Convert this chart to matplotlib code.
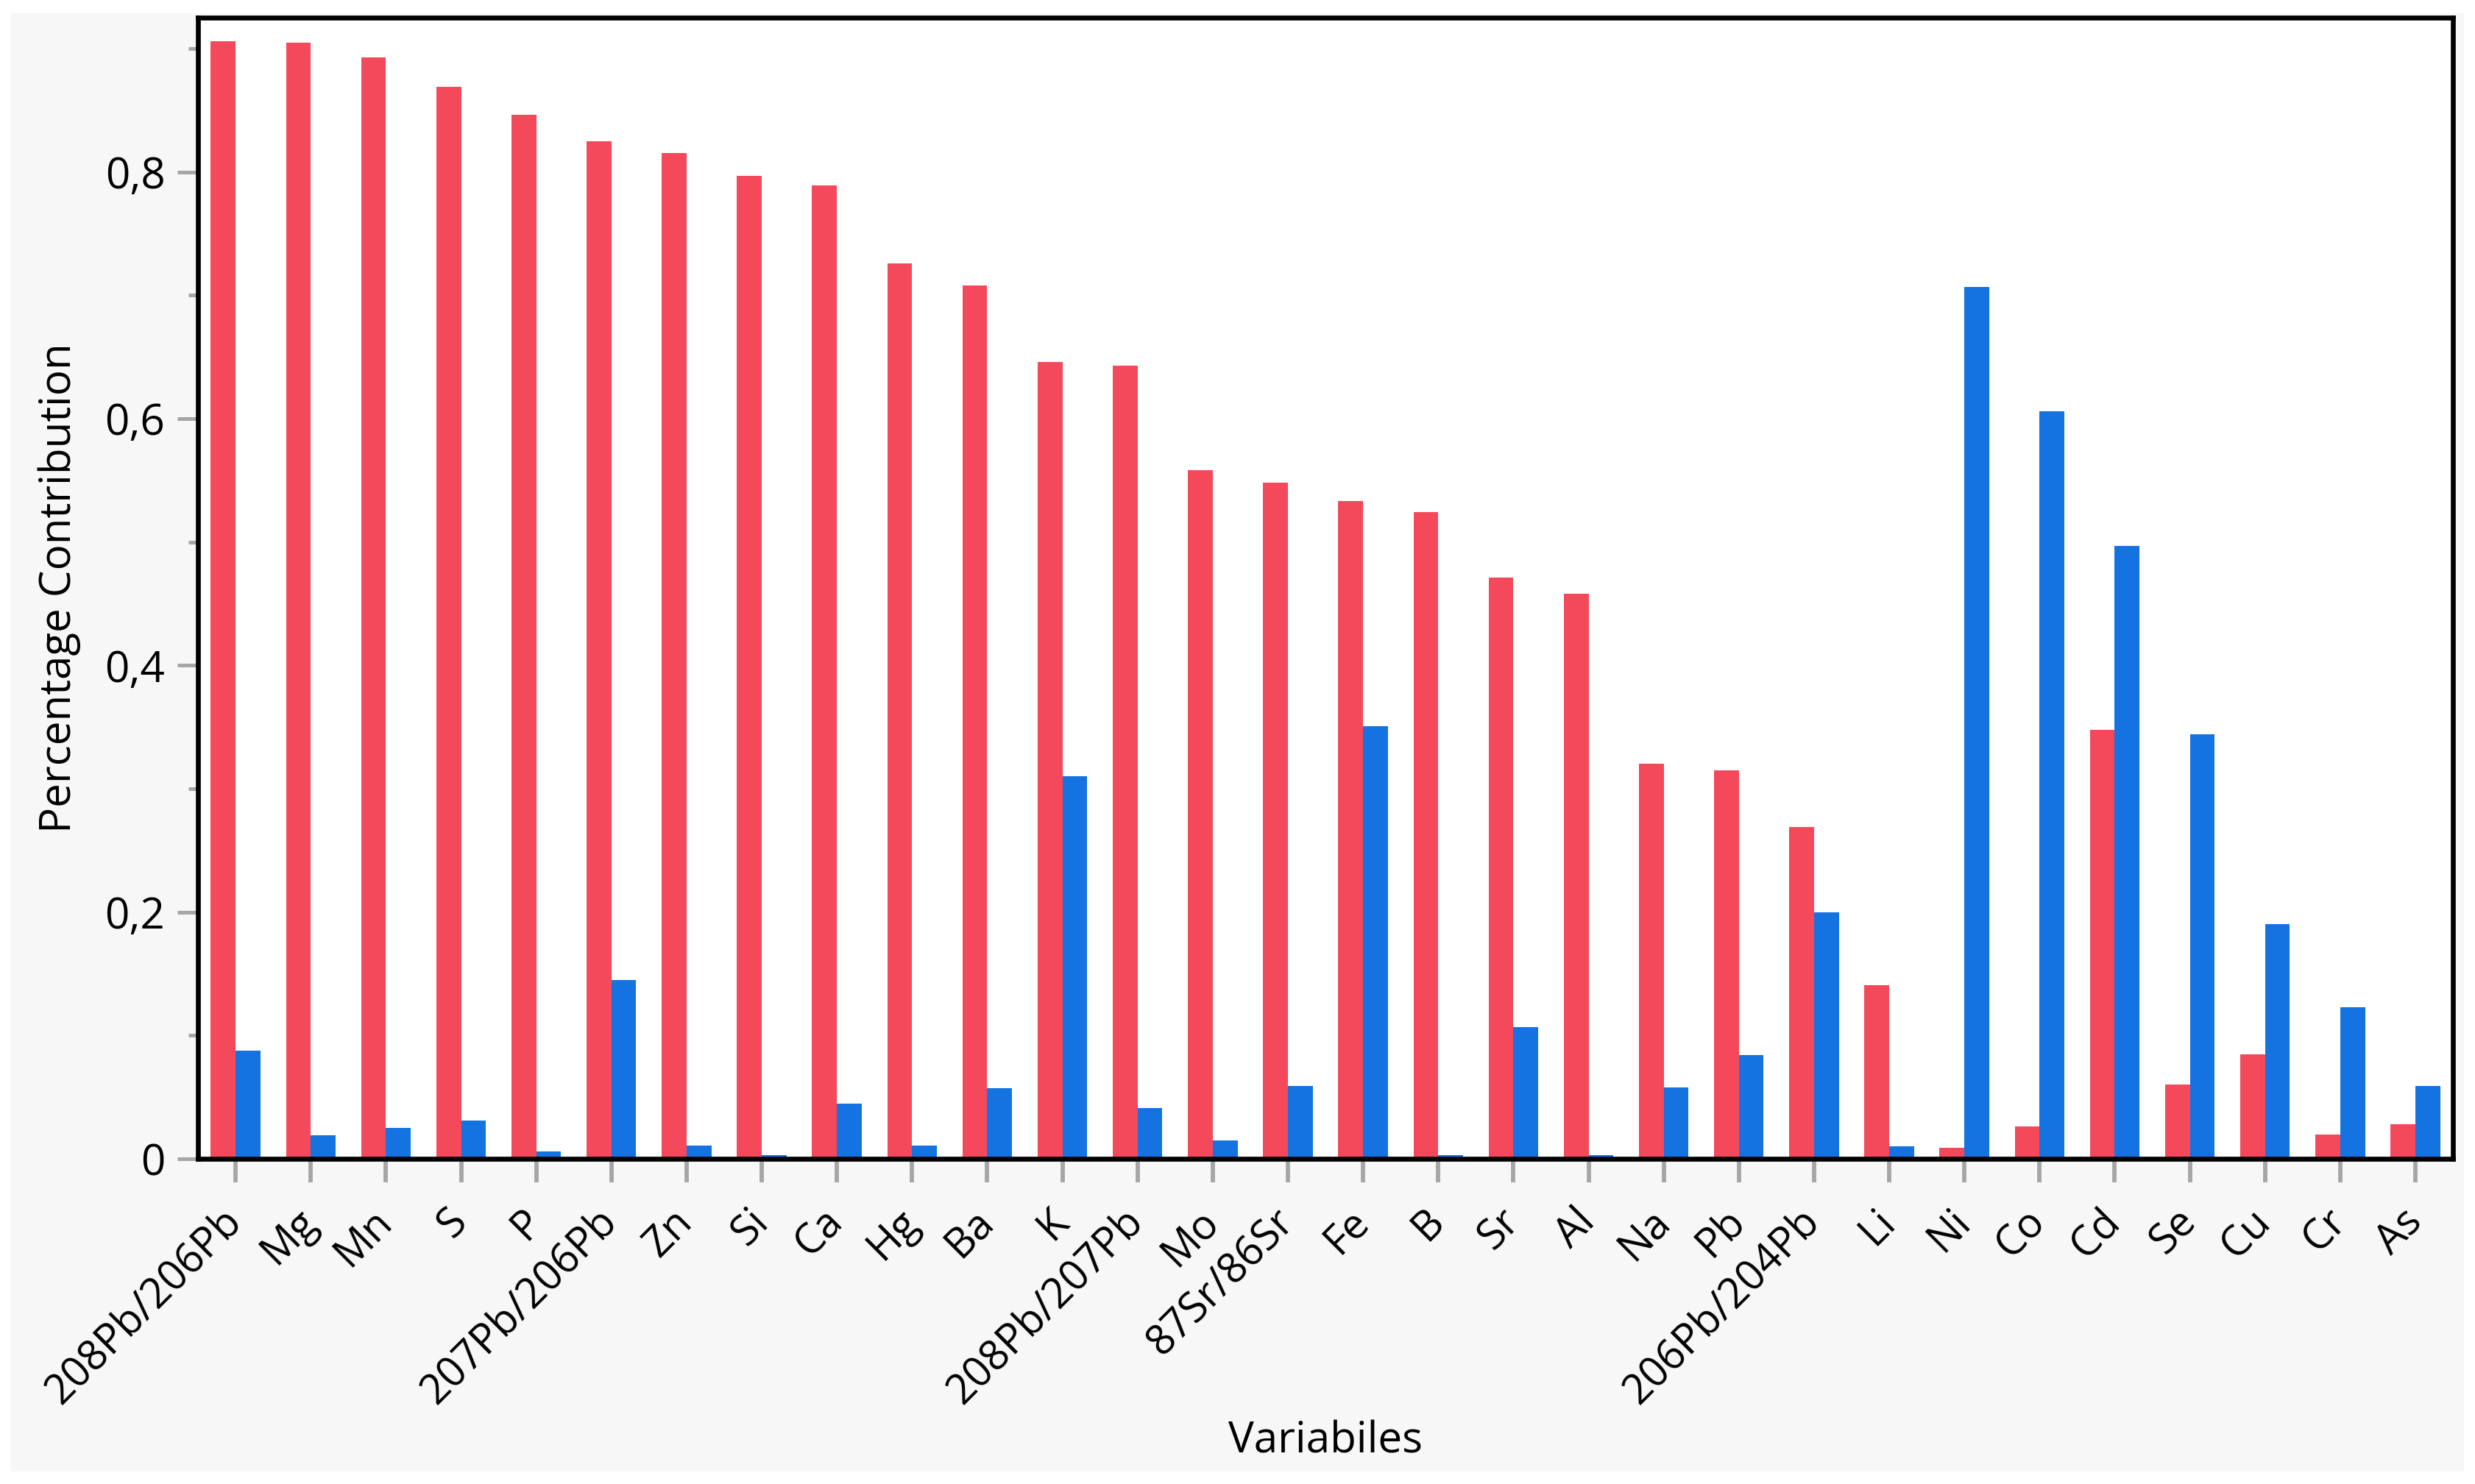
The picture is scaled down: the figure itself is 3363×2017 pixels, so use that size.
import matplotlib

matplotlib.use("Agg")
import matplotlib.pyplot as plt
import numpy as np
from matplotlib.patches import Rectangle

plt.rcParams["font.family"] = ["Open Sans", "DejaVu Sans"]

variables = [
    "208Pb/206Pb", "Mg", "Mn", "S", "P", "207Pb/206Pb", "Zn", "Si", "Ca", "Hg",
    "Ba", "K", "208Pb/207Pb", "Mo", "87Sr/86Sr", "Fe", "B", "Sr", "Al", "Na",
    "Pb", "206Pb/204Pb", "Li", "Ni", "Co", "Cd", "Se", "Cu", "Cr", "As",
]
# red series (first component)
comp1 = [
    0.906, 0.905, 0.893, 0.869, 0.846, 0.825, 0.815, 0.797, 0.789, 0.726,
    0.708, 0.646, 0.643, 0.558, 0.548, 0.533, 0.524, 0.471, 0.458, 0.320,
    0.315, 0.269, 0.141, 0.009, 0.026, 0.348, 0.060, 0.085, 0.020, 0.028,
]
# blue series (second component)
comp2 = [
    0.088, 0.019, 0.025, 0.031, 0.006, 0.145, 0.011, 0.003, 0.045, 0.011,
    0.057, 0.310, 0.041, 0.015, 0.059, 0.351, 0.003, 0.107, 0.003, 0.058,
    0.084, 0.200, 0.010, 0.707, 0.606, 0.497, 0.344, 0.190, 0.123, 0.059,
]
y_ticks = [0, 0.2, 0.4, 0.6, 0.8]
y_tick_labels = ["0", "0,2", "0,4", "0,6", "0,8"]
y_minor = [0.1, 0.3, 0.5, 0.7, 0.9]

RED = "#F4495A"
BLUE = "#1473E0"
TICK_GREY = "#A6A6A6"

fig = plt.figure(figsize=(3363 / 300, 2017 / 300), dpi=300, facecolor="white")
fig.patches.append(Rectangle((0.0045, 0.0085), 0.991, 0.9825, transform=fig.transFigure,
                             facecolor="#F7F7F7", edgecolor="none", zorder=-10))

ax = fig.add_axes([0.0800, 0.2191, 0.9111, 0.7690])
ax.set_facecolor("white")

x = np.arange(len(variables))
w = 0.33
ax.bar(x - w / 2, comp1, width=w, color=RED, linewidth=0)
ax.bar(x + w / 2, comp2, width=w, color=BLUE, linewidth=0)

ax.set_xlim(-0.5, len(variables) - 0.5)
ax.set_ylim(0, 0.925)

for side in ax.spines.values():
    side.set_linewidth(1.6)
    side.set_color("black")

ax.set_yticks(y_ticks)
ax.set_yticklabels(y_tick_labels)
ax.set_yticks(y_minor, minor=True)
ax.tick_params(axis="y", which="major", length=6.7, width=1.2, color=TICK_GREY,
               labelsize=14, pad=4)
ax.tick_params(axis="y", which="minor", length=3.2, width=1.2, color=TICK_GREY)

ax.set_xticks(x)
ax.set_xticklabels(variables, rotation=45, ha="right", va="center", rotation_mode="anchor")
ax.tick_params(axis="x", which="major", length=7.6, width=1.4, color=TICK_GREY,
               labelsize=13.5, pad=11)

ax.set_ylabel("Percentage Contribution", fontsize=14)
ax.yaxis.set_label_coords(-0.052, 0.5)
ax.set_xlabel("Variabiles", fontsize=14)
ax.xaxis.set_label_coords(0.5, -0.229)

fig.savefig("out.png", dpi=300, facecolor=fig.get_facecolor())
